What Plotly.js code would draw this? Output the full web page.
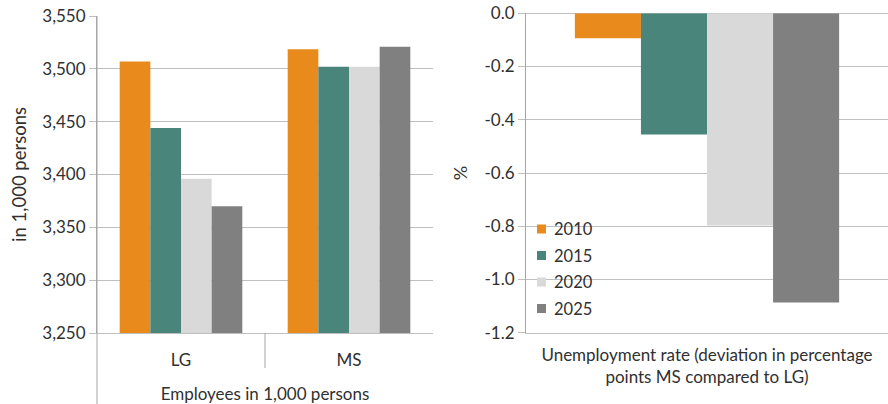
<!DOCTYPE html>
<html>
<head>
<meta charset="utf-8">
<script src="https://cdn.plot.ly/plotly-3.0.1.min.js"></script>
<style>html,body{margin:0;padding:0;background:#fff;}#chart{width:888px;height:404px;}</style>
</head>
<body>
<div id="chart"></div>
<script>
// ---- data ----
var years = ['2010', '2015', '2020', '2025'];
var regions = ['LG', 'MS'];
var employees2010 = [3507, 3518.5];
var employees2015 = [3444, 3502];
var employees2020 = [3396, 3502];
var employees2025 = [3370, 3521];
var unemploymentCategory = ['Unemployment rate'];
var unemploymentDeviation = [-0.094, -0.455, -0.797, -1.087];
var leftYTicks = [3250, 3300, 3350, 3400, 3450, 3500, 3550];
var rightYTicks = [-1.2, -1.0, -0.8, -0.6, -0.4, -0.2, 0.0];

var colors = ['#E88A1C', '#4A857C', '#D9D9D9', '#808080'];
var employeeSeries = [employees2010, employees2015, employees2020, employees2025];

var FONT = 'Lato, "Open Sans", sans-serif';
var traces = [];
employeeSeries.forEach(function (vals, i) {
  traces.push({
    type: 'bar', x: regions, y: vals, name: years[i],
    marker: {color: colors[i]}, xaxis: 'x', yaxis: 'y',
    showlegend: false, hoverinfo: 'skip'
  });
});
years.forEach(function (yr, i) {
  traces.push({
    type: 'bar', x: unemploymentCategory, y: [unemploymentDeviation[i]], name: yr,
    marker: {color: colors[i]}, xaxis: 'x2', yaxis: 'y2',
    showlegend: false, hoverinfo: 'skip'
  });
});

var gridC = '#BFBFBF';
var axisC = '#A6A6A6';
var textC = '#303030';
var tickFont = {family: FONT, size: 17, color: textC};

var W = 888, H = 404;
var xL0 = 97 / W, xL1 = 433 / W;
var xR0 = 526 / W, xR1 = 1.0;

// legend built from the years/colors arrays (layout only)
var shapes = [
  {type: 'line', xref: 'paper', yref: 'paper', x0: xL0, x1: xL0, y0: 0, y1: (H - 16) / H,
   line: {color: axisC, width: 1}},
  {type: 'line', xref: 'paper', yref: 'paper', x0: (xL0 + xL1) / 2, x1: (xL0 + xL1) / 2,
   y0: (H - 368) / H, y1: (H - 333) / H, line: {color: axisC, width: 1}},
  {type: 'rect', xref: 'paper', yref: 'paper', layer: 'between',
   x0: 527 / W, x1: 600 / W, y0: (H - 322) / H, y1: (H - 214) / H,
   fillcolor: '#ffffff', line: {width: 0}}
];
var annotations = [];
var legTop = 229, legStep = 26.5, sq = 9;
years.forEach(function (yr, i) {
  var cy = legTop + i * legStep;
  shapes.push({type: 'rect', xref: 'paper', yref: 'paper', layer: 'above',
    x0: 537 / W, x1: (537 + sq) / W, y0: (H - cy - sq / 2) / H, y1: (H - cy + sq / 2) / H,
    fillcolor: colors[i], line: {width: 0}});
  annotations.push({xref: 'paper', yref: 'paper', x: 552 / W, y: (H - cy) / H,
    xanchor: 'left', yanchor: 'middle', showarrow: false, text: yr,
    font: {family: FONT, size: 16.5, color: textC}});
});

var layout = {
  width: W, height: H,
  margin: {l: 0, r: 0, t: 0, b: 0},
  paper_bgcolor: '#fff', plot_bgcolor: 'rgba(0,0,0,0)',
  barmode: 'group', bargap: 0.27, bargroupgap: 0,
  showlegend: false,
  font: {family: FONT, color: textC},
  xaxis: {
    domain: [xL0, xL1], anchor: 'y', type: 'category',
    showgrid: false, zeroline: false, showline: true, linecolor: gridC, linewidth: 1,
    ticks: 'outside', ticklen: 12, tickcolor: 'rgba(0,0,0,0)',
    tickfont: tickFont,
    title: {text: 'Employees in 1,000 persons', font: {family: FONT, size: 17, color: textC}, standoff: 18}
  },
  yaxis: {
    domain: [(H - 333) / H, (H - 16) / H], anchor: 'x',
    range: [3250, 3550], tickvals: leftYTicks,
    ticktext: leftYTicks.map(function (v) { return v.toLocaleString('en-US'); }),
    showgrid: true, gridcolor: gridC, gridwidth: 1, zeroline: false,
    showline: true, linecolor: axisC, linewidth: 1,
    ticks: 'outside', ticklen: 7, tickcolor: gridC,
    tickfont: tickFont,
    title: {text: 'in 1,000 persons', font: {family: FONT, size: 18.5, color: textC}, standoff: 10}
  },
  xaxis2: {
    domain: [xR0, xR1], anchor: 'y2', type: 'category',
    showgrid: false, zeroline: false, showline: true, linecolor: gridC, linewidth: 1,
    showticklabels: false, ticks: '',
    title: {text: 'Unemployment rate (deviation in percentage<br>points MS compared to LG)',
            font: {family: FONT, size: 17, color: textC}, standoff: 16}
  },
  yaxis2: {
    domain: [(H - 332.7) / H, (H - 13.3) / H], anchor: 'x2',
    range: [-1.2, 0], tickvals: rightYTicks,
    ticktext: rightYTicks.map(function (v) { return v.toFixed(1); }),
    showgrid: true, gridcolor: gridC, gridwidth: 1, zeroline: true, zerolinecolor: gridC, zerolinewidth: 1,
    showline: true, linecolor: axisC, linewidth: 1,
    ticks: 'outside', ticklen: 7, tickcolor: gridC,
    tickfont: tickFont,
    title: {text: '%', font: {family: FONT, size: 18, color: textC}, standoff: 12}
  },
  shapes: shapes,
  annotations: annotations
};

Plotly.newPlot('chart', traces, layout, {displayModeBar: false, staticPlot: true});
</script>
</body>
</html>
